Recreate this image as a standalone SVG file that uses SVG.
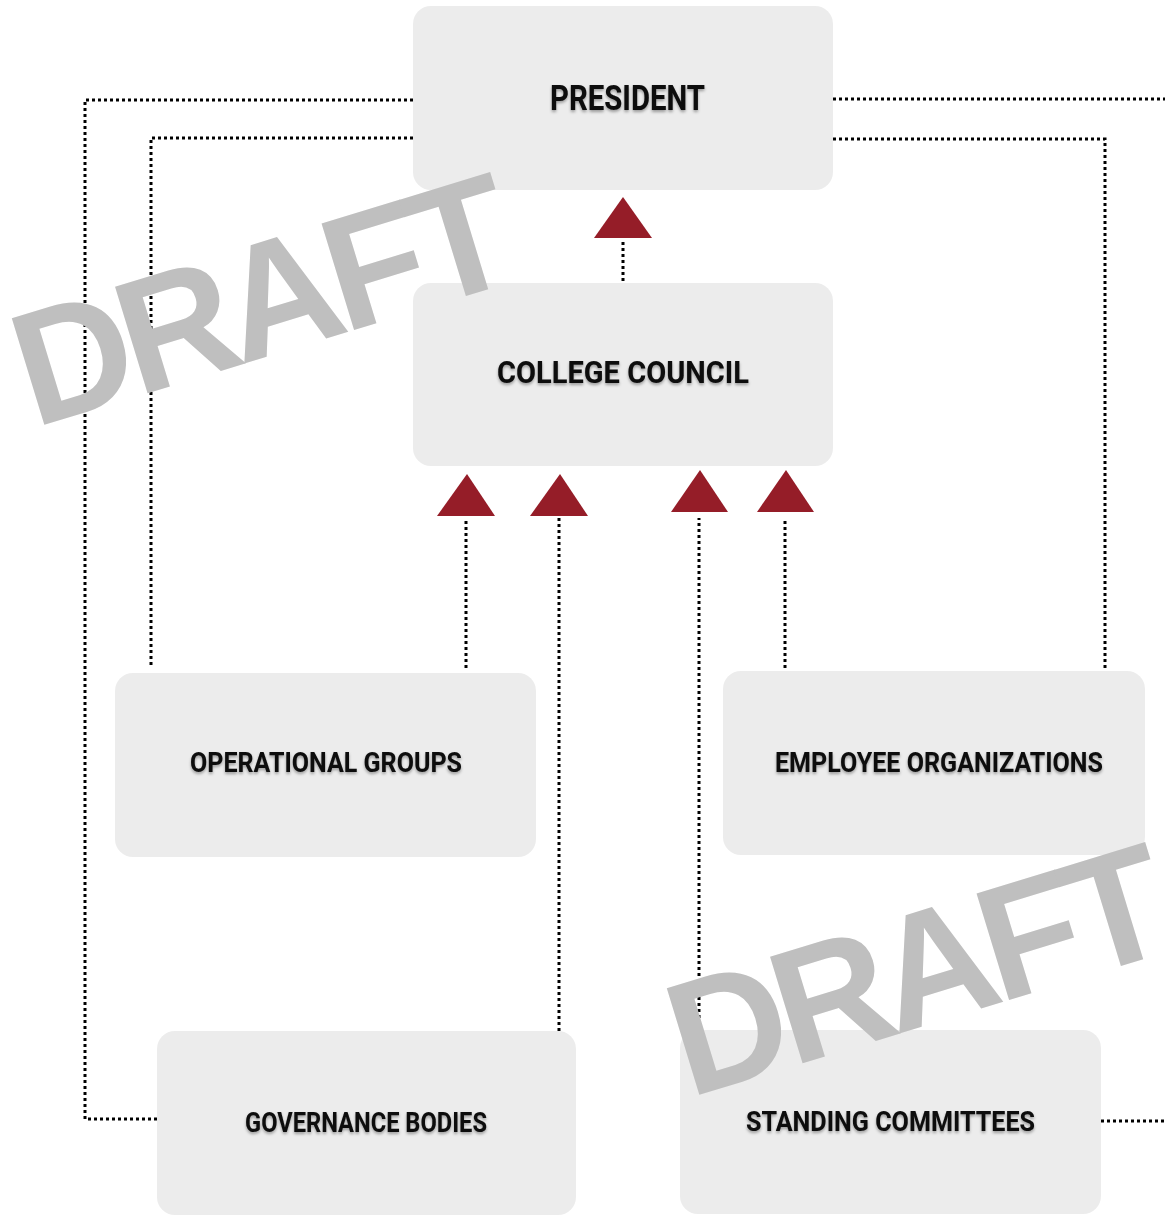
<svg xmlns="http://www.w3.org/2000/svg" width="1165" height="1215" viewBox="0 0 1165 1215">
<defs>
<style>
.box{fill:#ececec}
.lbl{font-family:Roboto,"Liberation Sans",sans-serif;font-weight:bold;fill:#0a0a0a;text-anchor:middle;filter:url(#sh)}
.dot{fill:none;stroke:#000;stroke-width:3;stroke-dasharray:3 3}
.tri{fill:#951d28}
.wm{font-family:"Liberation Sans",Arial,sans-serif;font-weight:bold;font-size:162px;fill:#bfbfbf;letter-spacing:-9px}
</style>
<filter id="sh" x="-10%" y="-30%" width="120%" height="170%">
<feDropShadow dx="0" dy="2" stdDeviation="1.5" flood-color="#000" flood-opacity="0.35"/>
</filter>
</defs>
<rect width="1165" height="1215" fill="#fff"/>
<g id="connectors">
<polyline class="dot" points="413,100 85,100 85,1119 157,1119"/>
<polyline class="dot" points="413,138 151,138 151,668"/>
<polyline class="dot" points="833,99 1165,99"/>
<polyline class="dot" points="833,139 1105,139 1105,671"/>
<polyline class="dot" points="1101,1121 1165,1121"/>
<line class="dot" x1="623" y1="281" x2="623" y2="242"/>
<line class="dot" x1="466" y1="668" x2="466" y2="518"/>
<line class="dot" x1="559" y1="1031" x2="559" y2="518"/>
<line class="dot" x1="699" y1="1030" x2="699" y2="518"/>
<line class="dot" x1="785" y1="668" x2="785" y2="518"/>
<polygon class="tri" points="623,197 594,238 652,238"/>
<polygon class="tri" points="467,474 437,516 495,516"/>
<polygon class="tri" points="560,474 530,516 588,516"/>
<polygon class="tri" points="700,470 671,512 728,512"/>
<polygon class="tri" points="786,470 757,512 814,512"/>
</g>
<g id="president">
<rect class="box" x="413" y="6" width="420" height="184" rx="18"/>
<text class="lbl" x="627.5" y="110" font-size="35" textLength="155" lengthAdjust="spacingAndGlyphs">PRESIDENT</text>
</g>
<g id="college-council">
<rect class="box" x="413" y="283" width="420" height="183" rx="18"/>
<text class="lbl" x="623" y="383" font-size="32" textLength="252" lengthAdjust="spacingAndGlyphs">COLLEGE COUNCIL</text>
</g>
<g id="operational-groups">
<rect class="box" x="115" y="673" width="421" height="184" rx="18"/>
<text class="lbl" x="326" y="772" font-size="28" textLength="272" lengthAdjust="spacingAndGlyphs">OPERATIONAL GROUPS</text>
</g>
<g id="employee-organizations">
<rect class="box" x="723" y="671" width="422" height="184" rx="18"/>
<text class="lbl" x="939" y="772" font-size="28" textLength="328" lengthAdjust="spacingAndGlyphs">EMPLOYEE ORGANIZATIONS</text>
</g>
<g id="governance-bodies">
<rect class="box" x="157" y="1031" width="419" height="184" rx="18"/>
<text class="lbl" x="366" y="1132" font-size="27" textLength="242" lengthAdjust="spacingAndGlyphs">GOVERNANCE BODIES</text>
</g>
<g id="standing-committees">
<rect class="box" x="680" y="1030" width="421" height="184" rx="18"/>
<text class="lbl" x="890.5" y="1131" font-size="27" textLength="289" lengthAdjust="spacingAndGlyphs">STANDING COMMITTEES</text>
</g>
<g id="watermarks">
<text class="wm" transform="translate(34,428) rotate(-17)">DRAFT</text>
<text class="wm" transform="translate(689,1098) rotate(-17)">DRAFT</text>
</g>
</svg>
